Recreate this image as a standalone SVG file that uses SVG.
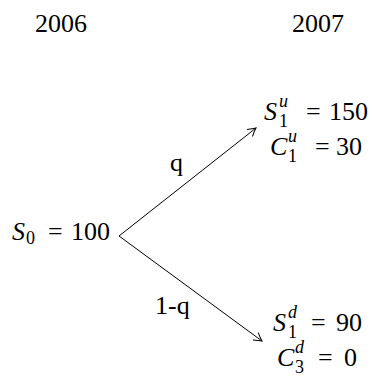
<svg xmlns="http://www.w3.org/2000/svg" width="372" height="376" viewBox="0 0 372 376">
<defs>
<marker id="arr" viewBox="-9 -5 10 10" markerWidth="10" markerHeight="10" refX="0" refY="0" orient="auto" markerUnits="userSpaceOnUse">
<path d="M-8,-4.5 Q-3,-1.2 0,0 Q-3,1.2 -8,4.5" fill="none" stroke="#000" stroke-width="1"/>
</marker>
</defs>
<rect width="372" height="376" fill="#fff"/>
<g id="year2006"><text x="35" y="32" font-family="Liberation Serif" font-size="26">2006</text></g>
<g id="year2007"><text x="292" y="32" font-family="Liberation Serif" font-size="26">2007</text></g>
<g id="connectors" stroke="#000" stroke-width="1" fill="none">
<line x1="119" y1="236" x2="256" y2="128" marker-end="url(#arr)"/>
<line x1="119" y1="236" x2="262" y2="341" marker-end="url(#arr)"/>
</g>
<g id="labels">
<text x="170" y="171" font-family="Liberation Serif" font-size="26">q</text>
<text x="155" y="314" font-family="Liberation Serif" font-size="26">1-q</text>
</g>
<g id="root">
<text x="12" y="240" font-family="Liberation Serif" font-size="26"><tspan font-style="italic">S</tspan><tspan font-size="18" x="26" y="244">0</tspan><tspan x="48" y="240">=</tspan><tspan x="71" y="240">100</tspan></text>
</g>
<g id="up">
<text x="264" y="120" font-family="Liberation Serif" font-size="26"><tspan font-style="italic">S</tspan><tspan font-size="18" font-style="italic" x="279" y="107">u</tspan><tspan font-size="18" x="279" y="127">1</tspan><tspan x="306" y="120">=</tspan><tspan x="329" y="120">150</tspan></text>
<text x="270" y="155" font-family="Liberation Serif" font-size="26"><tspan font-style="italic">C</tspan><tspan font-size="18" font-style="italic" x="288" y="142">u</tspan><tspan font-size="18" x="288" y="162">1</tspan><tspan x="315" y="155">=</tspan><tspan x="336" y="155">30</tspan></text>
</g>
<g id="down">
<text x="273" y="331" font-family="Liberation Serif" font-size="26"><tspan font-style="italic">S</tspan><tspan font-size="18" font-style="italic" x="288" y="318">d</tspan><tspan font-size="18" x="288" y="338">1</tspan><tspan x="311" y="331">=</tspan><tspan x="336" y="331">90</tspan></text>
<text x="277" y="366" font-family="Liberation Serif" font-size="26"><tspan font-style="italic">C</tspan><tspan font-size="18" font-style="italic" x="295" y="353">d</tspan><tspan font-size="18" x="295" y="373">3</tspan><tspan x="318" y="366">=</tspan><tspan x="344" y="366">0</tspan></text>
</g>
</svg>
